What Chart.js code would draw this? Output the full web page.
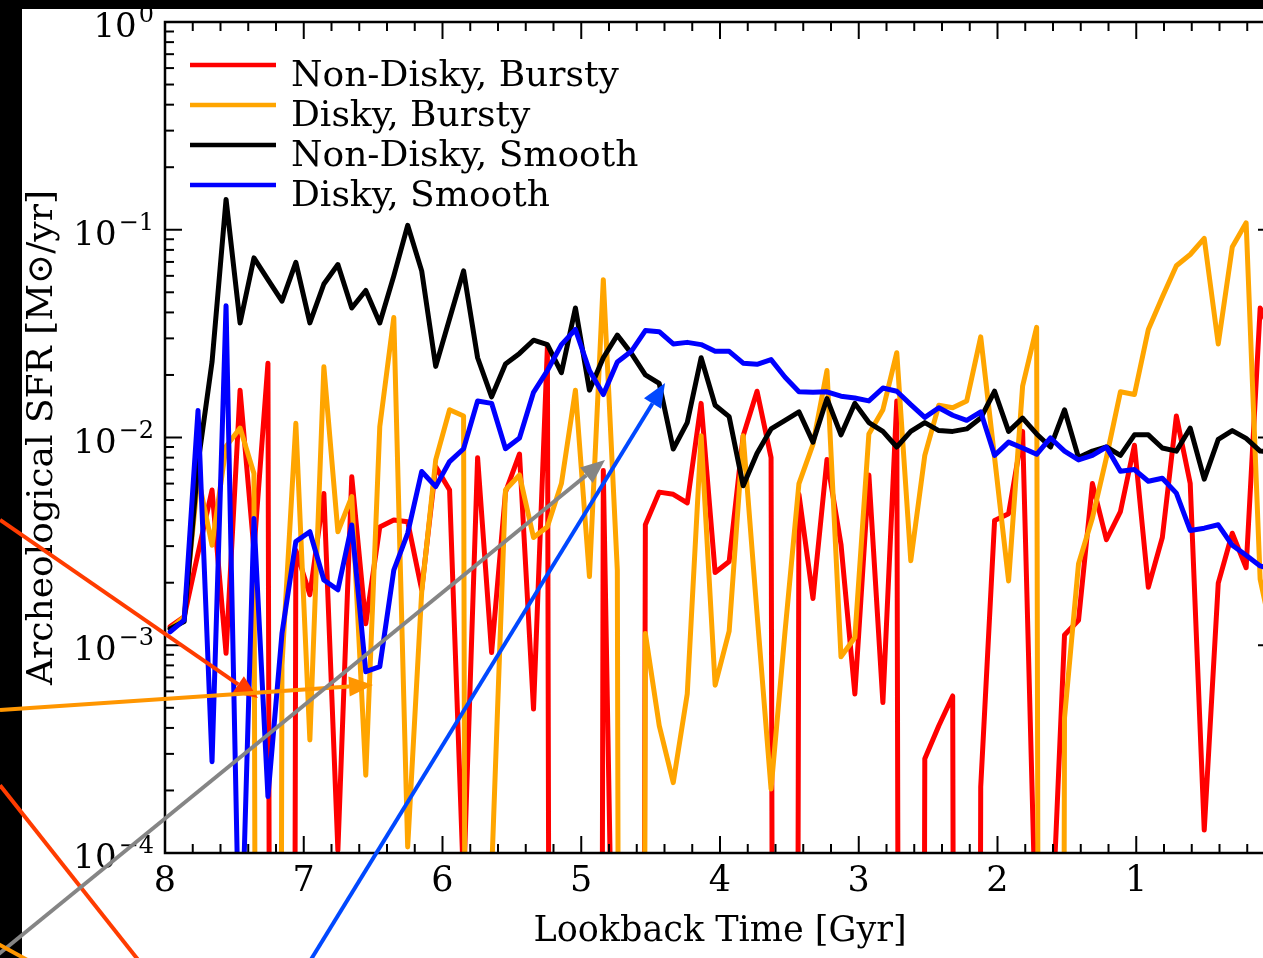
<!DOCTYPE html>
<html>
<head>
<meta charset="utf-8">
<title>Archeological SFR</title>
<script src="https://cdn.jsdelivr.net/npm/chart.js@4.4.1/dist/chart.umd.min.js"></script>
<style>
  html, body { margin: 0; padding: 0; background: #000; overflow: hidden; }
  #wrap { position: absolute; left: 0; top: 0; width: 1300px; height: 958px; }
</style>
</head>
<body>
<div id="wrap"><canvas id="sfrChart" width="1300" height="958"></canvas></div>
<script>
/* ---------- DATA ---------- */
// lookback time of each bin [Gyr]
const TIMES = [
  7.963, 7.862, 7.762, 7.661, 7.560, 7.459, 7.359, 7.258, 7.157, 7.057,
  6.956, 6.855, 6.754, 6.654, 6.553, 6.452, 6.351, 6.251, 6.150, 6.049,
  5.949, 5.848, 5.747, 5.646, 5.546, 5.445, 5.344, 5.244, 5.143, 5.042,
  4.941, 4.841, 4.740, 4.639, 4.538, 4.438, 4.337, 4.236, 4.136, 4.035,
  3.934, 3.833, 3.733, 3.632, 3.531, 3.431, 3.330, 3.229, 3.128, 3.028,
  2.927, 2.826, 2.726, 2.625, 2.524, 2.423, 2.323, 2.222, 2.121, 2.021,
  1.920, 1.819, 1.718, 1.618, 1.517, 1.416, 1.316, 1.215, 1.114, 1.013,
  0.913, 0.812, 0.711, 0.611, 0.510, 0.409, 0.308, 0.208, 0.107, 0.006
];

// SFR [Msun/yr]; 0 = no star formation in that bin
const NONDISKY_BURSTY = [
  0.00123, 0.00137, 0.00277, 0.00559, 0.000914, 0.0169, 0.00287, 0.0228, 0, 0.00287,
  0.00175, 0.00538, 0.000103, 0.00647, 0.00127, 0.00371, 0.00401, 0.00393, 0.00185, 0.00724,
  0.00559, 0.00007, 0.008, 0.000923, 0.00546, 0.00833, 0.000493, 0.0273, 0, 0,
  0, 0.00694, 0.000001, 0, 0.0038, 0.00546, 0.00533, 0.00484, 0.0146, 0.00224,
  0.00253, 0.0102, 0.0167, 0.008, 0, 0.00533, 0.00168, 0.00783, 0.00306, 0.000583,
  0.0066, 0.00053, 0.015, 0, 0.000284, 0.00041, 0.00057, 0, 0.000208, 0.00399,
  0.0043, 0.0107, 0.00003, 0.00003, 0.00112, 0.00132, 0.006, 0.00322, 0.0044, 0.00917,
  0.0019, 0.0033, 0.0127, 0.006, 0.000129, 0.00199, 0.00346, 0.00236, 0.042, 0.03
];

const DISKY_BURSTY = [
  0.0012, 0.00137, 0.00647, 0.00303, 0.00904, 0.0111, 0.00671, 0, 0.0008, 0.0117,
  0.00035, 0.0219, 0.00352, 0.00519, 0.000237, 0.0113, 0.0378, 0.000107, 0.0018, 0.0078,
  0.0136, 0.0127, 0, 0.00008, 0.00559, 0.0066, 0.0033, 0.00372, 0.006, 0.0169,
  0.00214, 0.0575, 0.0023, 0, 0.00114, 0.00041, 0.000218, 0.000583, 0.0102, 0.000642,
  0.00117, 0.0102, 0.00142, 0.000203, 0.00117, 0.006, 0.00927, 0.021, 0.00088, 0.00109,
  0.0104, 0.0136, 0.0256, 0.00255, 0.0082, 0.0143, 0.0139, 0.015, 0.0305, 0.008,
  0.00204, 0.0177, 0.0339, 0, 0.000448, 0.00247, 0.0041, 0.008, 0.0166, 0.0161,
  0.0331, 0.0474, 0.0671, 0.076, 0.0908, 0.0282, 0.0825, 0.108, 0.00208, 0.001
];

const NONDISKY_SMOOTH = [
  0.0012, 0.0013, 0.0075, 0.0231, 0.14, 0.0356, 0.0732, 0.0575, 0.0453, 0.0697,
  0.0356, 0.0548, 0.068, 0.042, 0.051, 0.0356, 0.06, 0.105, 0.0634, 0.022,
  0.0373, 0.0634, 0.0242, 0.0157, 0.0226, 0.0254, 0.0294, 0.028, 0.0205, 0.042,
  0.0169, 0.0242, 0.0311, 0.0254, 0.020, 0.0182, 0.0088, 0.0118, 0.0242, 0.0143,
  0.0126, 0.00586, 0.0084, 0.011, 0.0121, 0.0133, 0.0095, 0.0154, 0.0103, 0.0146,
  0.0118, 0.0107, 0.009, 0.0107, 0.0118, 0.0108, 0.0107, 0.011, 0.0124, 0.0167,
  0.0107, 0.0124, 0.0104, 0.009, 0.0136, 0.008, 0.0086, 0.009, 0.0082, 0.0103,
  0.0103, 0.0089, 0.0086, 0.0111, 0.0063, 0.0098, 0.0108, 0.0099, 0.0086, 0.0085
];

const DISKY_SMOOTH = [
  0.00116, 0.00132, 0.0135, 0.000275, 0.0431, 0.00002, 0.00408, 0.000187, 0.00114, 0.00316,
  0.00352, 0.00206, 0.00185, 0.00379, 0.000746, 0.000789, 0.0023, 0.00346, 0.00686, 0.0058,
  0.00766, 0.00883, 0.015, 0.0146, 0.00883, 0.00995, 0.0165, 0.021, 0.028, 0.0331,
  0.021, 0.0161, 0.0231, 0.026, 0.0327, 0.0323, 0.0282, 0.0287, 0.028, 0.026,
  0.026, 0.0228, 0.0225, 0.0237, 0.0195, 0.0166, 0.0165, 0.0166, 0.0158, 0.0155,
  0.015, 0.0173, 0.0167, 0.0144, 0.0125, 0.0139, 0.0128, 0.0121, 0.0133, 0.0082,
  0.0095, 0.0089, 0.0083, 0.00995, 0.0086, 0.0078, 0.0082, 0.009, 0.00688, 0.00701,
  0.00616, 0.00637, 0.0054, 0.00357, 0.00366, 0.0038, 0.00303, 0.00271, 0.00241, 0.0023
];

const SERIES_LABELS = ["Non-Disky, Bursty", "Disky, Bursty", "Non-Disky, Smooth", "Disky, Smooth"];
const SERIES_VALUES = [NONDISKY_BURSTY, DISKY_BURSTY, NONDISKY_SMOOTH, DISKY_SMOOTH];

const X_TICKS = [0, 1, 2, 3, 4, 5, 6, 7, 8];
const Y_TICKS = [1e-4, 1e-3, 1e-2, 1e-1, 1];
// base and exponent of each decade label
const Y_TICK_BASES = ["10", "10", "10", "10", "10"];
const Y_TICK_EXPONENTS = ["\u22124", "\u22123", "\u22122", "\u22121", "0"];

// annotation arrows drawn on top of the figure, in data units [Gyr, Msun/yr]
const ARROW_FROM = [[9.189, 0.00401], [9.189, 0.000488], [9.189, 0.000212], [9.405, 2.52e-5], [7.027, 2.52e-5], [9.333, 4.07e-5]];
const ARROW_TO   = [[7.330, 0.000557], [6.501, 0.000644], [8.108, 2.59e-5], [4.829, 0.00779], [4.396, 0.0183], [8.901, 2.83e-5]];
const ARROW_HEAD = [true, true, false, true, true, false];

/* ---------- STYLE ---------- */
const SERIES_COLORS = ["#ff0000", "#ffa500", "#000000", "#0000ff"];
const ARROW_COLORS = ["#ff3c00", "#ff9600", "#ff3c00", "#858585", "#0048ff", "#ff9600"];
const FONT = "'DejaVu Serif', 'Liberation Serif', serif";
const BELOW_AXIS = 1e-30; // log axis cannot show 0, push it far below

Chart.defaults.font.family = FONT;
Chart.defaults.color = "#000";

/* ---------- PLUGINS ---------- */
function seg(ctx, x0, y0, x1, y1) {
  ctx.beginPath();
  ctx.moveTo(x0, y0);
  ctx.lineTo(x1, y1);
  ctx.stroke();
}

const backgroundPlugin = {
  id: "background",
  beforeDraw(chart) {
    const { ctx, width, height } = chart;
    ctx.save();
    ctx.fillStyle = "#fff";
    ctx.fillRect(0, 0, width, height);
    ctx.fillStyle = "#000";
    ctx.fillRect(0, 0, 22, height);
    ctx.fillRect(0, 0, width, 9);
    ctx.restore();
  }
};

const framePlugin = {
  id: "frame",
  afterDatasetsDraw(chart) {
    const { ctx, chartArea: a } = chart;
    const x = chart.scales.x, y = chart.scales.y;
    ctx.save();
    ctx.strokeStyle = "#000";
    ctx.lineWidth = 2;

    // x ticks every 0.2 Gyr, major every 1 Gyr
    for (let k = 0; k <= 40; k++) {
      const px = x.getPixelForValue(k * 0.2);
      const len = k % 5 === 0 ? 17 : 9;
      seg(ctx, px, a.bottom, px, a.bottom - len);
      seg(ctx, px, a.top, px, a.top + len);
    }

    // y ticks, log minor
    for (let d = -4; d <= 0; d++) {
      for (let m = 1; m <= 9; m++) {
        if (d === 0 && m > 1) break;
        const py = y.getPixelForValue(m * Math.pow(10, d));
        const len = m === 1 ? 17 : 9;
        seg(ctx, a.left, py, a.left + len, py);
        seg(ctx, a.right, py, a.right - len, py);
      }
    }

    ctx.lineWidth = 2.5;
    ctx.strokeRect(a.left, a.top, a.right - a.left, a.bottom - a.top);

    // decade labels with a real superscript
    ctx.fillStyle = "#000";
    ctx.textAlign = "right";
    ctx.textBaseline = "alphabetic";
    Y_TICKS.forEach((v, i) => {
      const py = y.getPixelForValue(v);
      ctx.font = "24px " + FONT;
      const ew = ctx.measureText(Y_TICK_EXPONENTS[i]).width;
      ctx.fillText(Y_TICK_EXPONENTS[i], a.left - 11, py);
      ctx.font = "34px " + FONT;
      ctx.fillText(Y_TICK_BASES[i], a.left - 13 - ew, py + 15);
    });
    ctx.restore();
  }
};

const legendPlugin = {
  id: "insideLegend",
  afterDraw(chart) {
    const { ctx, chartArea: a } = chart;
    ctx.save();
    ctx.font = "36px " + FONT;
    ctx.textBaseline = "alphabetic";
    ctx.lineCap = "butt";
    chart.data.datasets.forEach((ds, i) => {
      const yy = a.top + 43 + i * 40;
      ctx.strokeStyle = ds.borderColor;
      ctx.lineWidth = 4.5;
      seg(ctx, a.left + 25, yy, a.left + 111, yy);
      ctx.fillStyle = "#000";
      ctx.fillText(ds.label, a.left + 126, yy + 21);
    });
    ctx.restore();
  }
};

const arrowPlugin = {
  id: "arrows",
  afterDraw(chart) {
    const { ctx } = chart;
    const x = chart.scales.x, y = chart.scales.y;
    ctx.save();
    ctx.lineWidth = 4;
    ARROW_FROM.forEach((p, i) => {
      const x0 = x.getPixelForValue(p[0]), y0 = y.getPixelForValue(p[1]);
      const x1 = x.getPixelForValue(ARROW_TO[i][0]), y1 = y.getPixelForValue(ARROW_TO[i][1]);
      const ang = Math.atan2(y1 - y0, x1 - x0);
      const hl = ARROW_HEAD[i] ? 24 : 0;
      ctx.strokeStyle = ARROW_COLORS[i];
      ctx.fillStyle = ARROW_COLORS[i];
      seg(ctx, x0, y0, x1 - hl * Math.cos(ang), y1 - hl * Math.sin(ang));
      if (ARROW_HEAD[i]) {
        const bx = x1 - hl * Math.cos(ang), by = y1 - hl * Math.sin(ang);
        const hw = 10;
        ctx.beginPath();
        ctx.moveTo(x1, y1);
        ctx.lineTo(bx + hw * Math.sin(ang), by - hw * Math.cos(ang));
        ctx.lineTo(bx - hw * Math.sin(ang), by + hw * Math.cos(ang));
        ctx.closePath();
        ctx.fill();
      }
    });
    ctx.restore();
  }
};

/* ---------- CHART ---------- */
const datasets = SERIES_VALUES.map((vals, i) => ({
  label: SERIES_LABELS[i],
  data: vals.map((v, k) => ({ x: TIMES[k], y: v > 0 ? v : BELOW_AXIS })),
  borderColor: SERIES_COLORS[i],
  backgroundColor: SERIES_COLORS[i],
  borderWidth: 5,
  borderJoinStyle: "round",
  borderCapStyle: "round",
  pointRadius: 0,
  tension: 0,
  fill: false,
  clip: 0,
  order: SERIES_VALUES.length - i  // last series drawn on top
}));

const ctx = document.getElementById("sfrChart").getContext("2d");
const chart = new Chart(ctx, {
  type: "line",
  data: { datasets },
  plugins: [backgroundPlugin, framePlugin, legendPlugin, arrowPlugin],
  options: {
    responsive: false,
    animation: false,
    devicePixelRatio: 1,
    layout: { padding: { left: 0, right: 25, top: 22, bottom: 0 } },
    plugins: {
      legend: { display: false },
      tooltip: { enabled: false }
    },
    scales: {
      x: {
        type: "linear",
        reverse: true,
        min: 0,
        max: 8,
        afterBuildTicks: s => { s.ticks = X_TICKS.map(v => ({ value: v })); },
        afterFit: s => { s.height = 105; },
        ticks: { padding: 8, maxRotation: 0, autoSkip: false, font: { size: 35 }, color: "#000" },
        grid: { display: false, drawTicks: false },
        border: { display: false },
        title: {
          display: true,
          text: "Lookback Time [Gyr]",
          color: "#000",
          font: { size: 35 },
          padding: { top: 0, bottom: 5 }
        }
      },
      y: {
        type: "logarithmic",
        min: 1e-4,
        max: 1,
        afterBuildTicks: s => { s.ticks = Y_TICKS.map(v => ({ value: v })); },
        afterFit: s => { s.width = 165; },
        ticks: { display: false },
        grid: { display: false, drawTicks: false },
        border: { display: false },
        title: {
          display: true,
          text: "Archeological SFR [M\u2299/yr]",
          color: "#000",
          font: { size: 36 },
          padding: { top: 21, bottom: 0 }
        }
      }
    }
  }
});
</script>
</body>
</html>
